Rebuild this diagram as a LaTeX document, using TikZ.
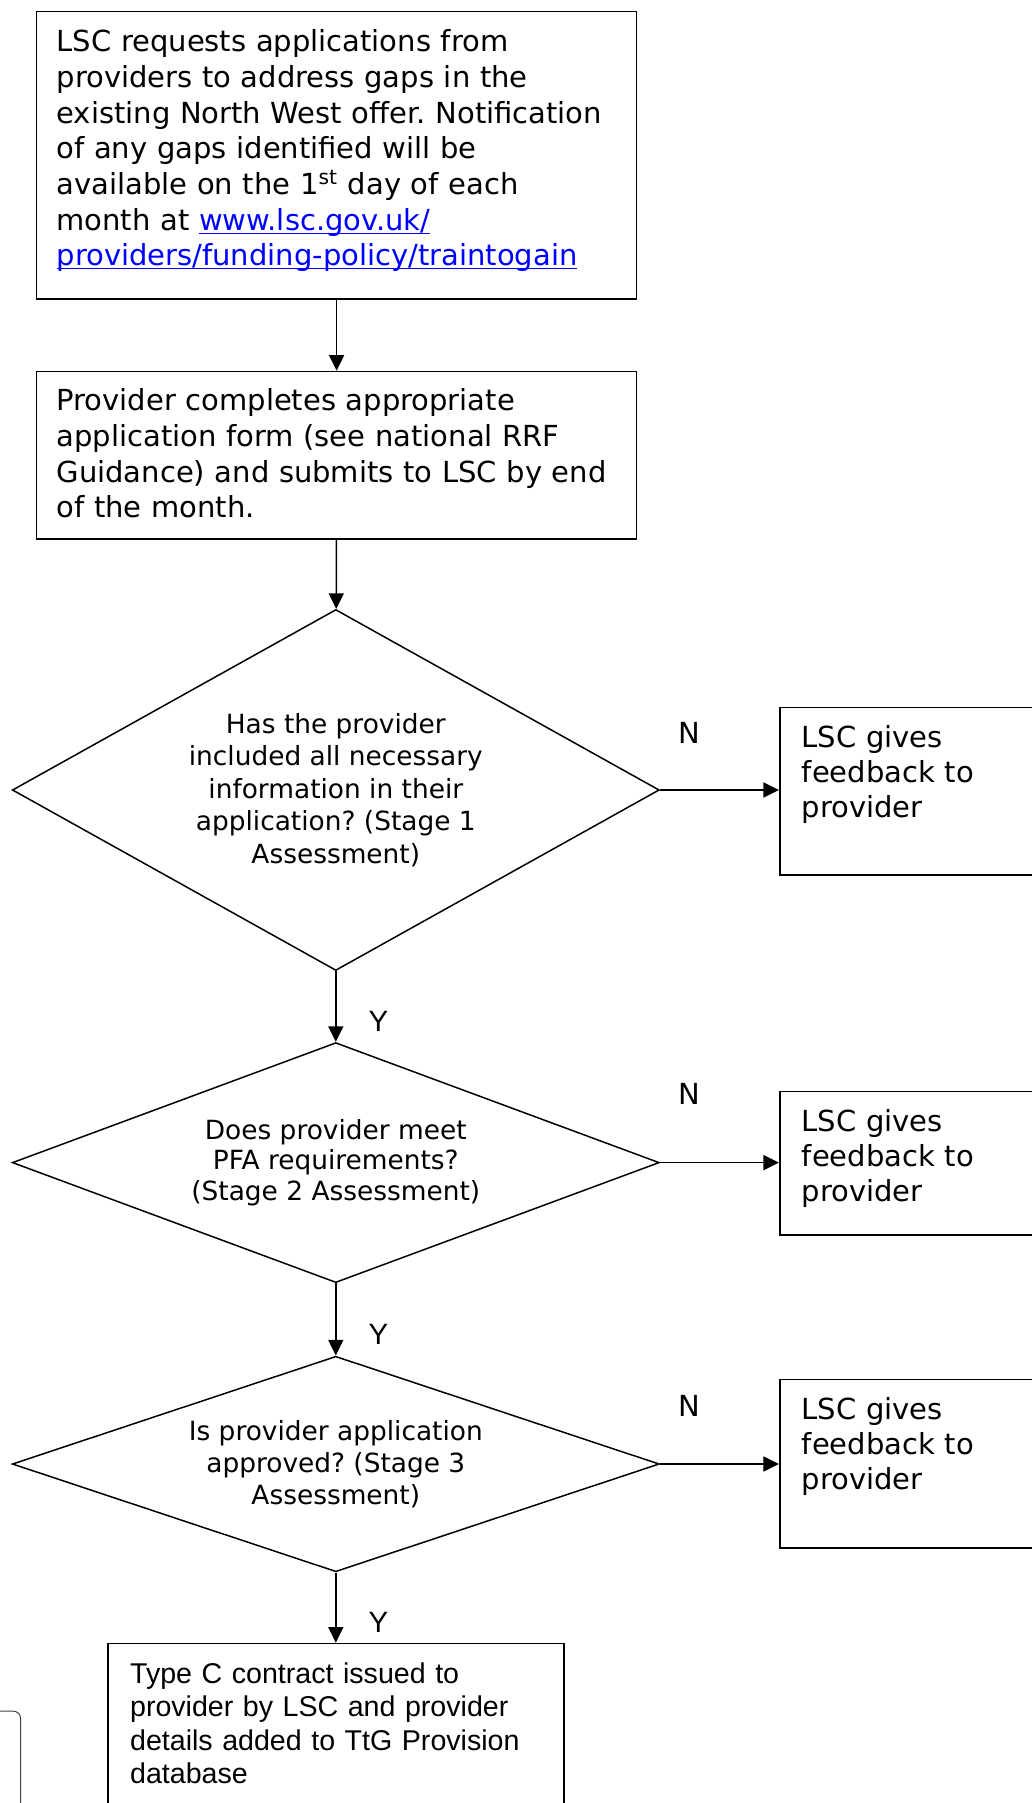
\documentclass[tikz,border=0pt]{standalone}
\usepackage{fontspec}
\setmainfont{DejaVu Sans}
\newfontfamily\arialfont{Liberation Sans}
\usetikzlibrary{shapes.geometric,arrows.meta,positioning}
\definecolor{linkblue}{RGB}{0,0,255}
\newcommand{\weblink}[1]{\textcolor{linkblue}{\underline{\smash{#1}}}}
\frenchspacing
\tikzset{stepbox/.style={draw,line width=0.8pt,anchor=north west,align=left,inner xsep=10pt,inner ysep=0pt,text width=280pt,font=\fontsize{14.5}{17.85}\selectfont},
  fbbox/.style={stepbox,inner xsep=11pt,text width=150pt,font=\fontsize{14.5}{17.5}\selectfont},
  endbox/.style={stepbox,inner xsep=11pt,text width=205.85pt,font=\arialfont\fontsize{14.3}{16.7}\selectfont},
  query/.style={diamond,draw,line width=0.75pt,inner sep=0pt,align=center,minimum width=323.5pt},
  flow/.style={-{Triangle[length=7.8pt,width=7.5pt]},line width=0.75pt},
  flagN/.style={inner sep=0pt,anchor=base,font=\fontsize{14.5}{17}\selectfont},
  flagY/.style={inner sep=0pt,anchor=base west,font=\arialfont\fontsize{14.7}{17}\selectfont}}

\begin{document}
\begin{tikzpicture}[x=0.5pt,y=-0.5pt]
    \useasboundingbox (0,0) rectangle (1032,1803);
    \clip (0,0) rectangle (1032,1803);

    \node[stepbox,text height=20.15pt,text depth=123.5pt] (req) at (35.8,10.7) {LSC requests applications from\\ providers to address gaps in the\\ existing North West offer. Notification\\ of any gaps identified will be\\ available on the 1\textsuperscript{st} day of each\\ month at \weblink{www.lsc.gov.uk/}\\ \weblink{providers/funding-policy/traintogain}};
    \node[stepbox,text height=19.65pt,text depth=64pt] (form) at (35.8,370.7) {Provider completes appropriate\\ application form (see national RRF\\ Guidance) and submits to LSC by end\\ of the month.};

    \node[query,shape aspect=1.8,minimum height=180.5pt,font=\fontsize{13.2}{16.2}\selectfont] (q1) at (335.8,790) {Has the provider\\ included all necessary\\ information in their\\ application? (Stage 1\\ Assessment)};
    \node[query,shape aspect=2.7,minimum height=120pt,font=\fontsize{13.2}{15.2}\selectfont] (q2) at (335.8,1162.6) {Does provider meet\\ PFA requirements?\\ (Stage 2 Assessment)};
    \node[query,shape aspect=3.1,minimum height=107.75pt,font=\fontsize{13.2}{16}\selectfont] (q3) at (335.8,1464) {Is provider application\\ approved? (Stage 3\\ Assessment)};

    \node[fbbox,text height=20pt,text depth=63.65pt] (fb1) at (779,706.7) {LSC gives\\ feedback to\\ provider};
    \node[fbbox,text height=20.15pt,text depth=51.7pt] (fb2) at (779,1090.7) {LSC gives\\ feedback to\\ provider};
    \node[fbbox,text height=20pt,text depth=64.15pt] (fb3) at (779,1378.7) {LSC gives\\ feedback to\\ provider};

    \node[endbox,text height=20pt,text depth=120pt] (contract) at (107.3,1642.7) {Type C contract issued to\\ provider by LSC and provider\\ details added to TtG Provision\\ database};
    \node[draw=black!75,line width=0.5pt,rounded corners=3.5pt,anchor=north east,minimum width=40pt,minimum height=60pt,inner sep=0pt] (note) at (21,1710.7) {};

    \draw[flow] (req) -- (form);
    \draw[flow] (form) -- (q1);
    \draw[flow] (q1) -- node[flagY,pos=.85,xshift=16pt]{Y} (q2);
    \draw[flow] (q2) -- node[flagY,pos=.85,xshift=16pt]{Y} (q3);
    \draw[flow] (q3.south) -- node[flagY,pos=.85,xshift=16pt]{Y} (q3.south |- contract.north);

    \draw[flow] (q1.east) -- node[flagN,pos=.25,yshift=23.25pt]{N} (q1.east -| fb1.west);
    \draw[flow] (q2.east) -- node[flagN,pos=.25,yshift=29.3pt]{N} (q2.east -| fb2.west);
    \draw[flow] (q3.east) -- node[flagN,pos=.25,yshift=24pt]{N} (q3.east -| fb3.west);
\end{tikzpicture}
\end{document}
